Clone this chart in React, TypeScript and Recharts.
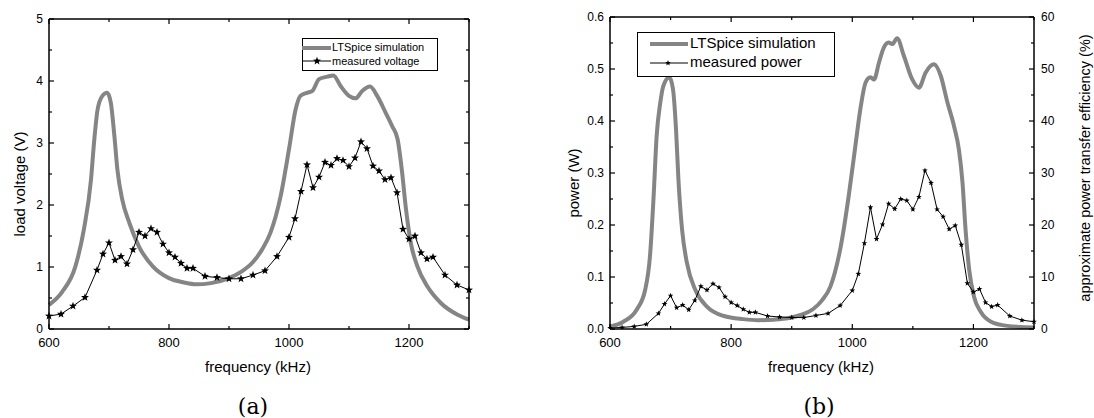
import React from "react";
import { LineChart, Line, XAxis, YAxis } from "recharts";

// x ticks shared by both panels (kHz)
const freqTicks = [600, 700, 800, 900, 1000, 1100, 1200, 1300];
const freqLabels = [600, 800, 1000, 1200];

const voltTicks = [0, 0.5, 1, 1.5, 2, 2.5, 3, 3.5, 4, 4.5, 5];
const powerTicks = [0, 0.05, 0.1, 0.15, 0.2, 0.25, 0.3, 0.35, 0.4, 0.45, 0.5, 0.55, 0.6];
const effTicks = [0, 5, 10, 15, 20, 25, 30, 35, 40, 45, 50, 55, 60];

// (a) LTSpice simulation, load voltage
const simFreqA = [600, 622, 644, 658, 670, 675, 681, 689, 697, 703, 709, 714, 722, 734, 750, 773, 800, 825, 845, 870, 900, 920, 940, 955, 969, 986, 1000, 1011, 1019, 1030, 1039, 1050, 1064, 1074, 1086, 1100, 1111, 1122, 1135, 1147, 1161, 1172, 1181, 1188, 1195, 1203, 1214, 1231, 1253, 1281, 1300];
const simVoltA = [0.39, 0.6, 1.01, 1.6, 2.41, 3.0, 3.54, 3.76, 3.81, 3.65, 3.11, 2.57, 2.09, 1.71, 1.33, 1.01, 0.82, 0.75, 0.72, 0.74, 0.82, 0.92, 1.08, 1.28, 1.55, 2.14, 2.9, 3.54, 3.76, 3.81, 3.84, 4.03, 4.07, 4.09, 3.92, 3.76, 3.72, 3.84, 3.91, 3.76, 3.49, 3.27, 3.06, 2.57, 1.93, 1.39, 1.01, 0.68, 0.42, 0.23, 0.15];

// measured frequencies (same sweep for both panels)
const measFreq = [600, 620, 640, 660, 680, 690, 700, 710, 720, 730, 740, 750, 760, 770, 780, 790, 800, 810, 820, 830, 840, 860, 880, 900, 920, 940, 960, 980, 1000, 1010, 1020, 1030, 1040, 1050, 1060, 1070, 1080, 1090, 1100, 1110, 1120, 1130, 1140, 1150, 1160, 1170, 1180, 1190, 1200, 1210, 1220, 1230, 1240, 1260, 1280, 1300];
const measVolt = [0.21, 0.24, 0.37, 0.51, 0.95, 1.21, 1.39, 1.11, 1.17, 1.05, 1.28, 1.56, 1.5, 1.62, 1.56, 1.37, 1.23, 1.16, 1.06, 0.98, 0.98, 0.85, 0.83, 0.81, 0.81, 0.87, 0.94, 1.17, 1.48, 1.78, 2.22, 2.65, 2.28, 2.45, 2.69, 2.64, 2.75, 2.72, 2.62, 2.76, 3.02, 2.91, 2.63, 2.55, 2.41, 2.44, 2.2, 1.61, 1.45, 1.5, 1.23, 1.13, 1.16, 0.87, 0.71, 0.63];
const measPower = [0.002, 0.003, 0.005, 0.009, 0.03, 0.048, 0.064, 0.041, 0.046, 0.037, 0.055, 0.082, 0.075, 0.087, 0.08, 0.062, 0.051, 0.045, 0.038, 0.032, 0.032, 0.025, 0.023, 0.022, 0.022, 0.026, 0.03, 0.045, 0.074, 0.106, 0.165, 0.234, 0.173, 0.201, 0.241, 0.231, 0.25, 0.247, 0.23, 0.254, 0.305, 0.281, 0.23, 0.216, 0.192, 0.199, 0.162, 0.088, 0.071, 0.077, 0.051, 0.043, 0.046, 0.025, 0.017, 0.014];

// (b) LTSpice simulation, power
const simFreqB = [600, 622, 644, 658, 666, 672, 677, 683, 688, 698, 704, 709, 713, 719, 727, 741, 760, 788, 820, 845, 870, 895, 915, 935, 950, 964, 981, 994, 1005, 1014, 1022, 1030, 1036, 1044, 1052, 1060, 1066, 1074, 1085, 1099, 1110, 1121, 1135, 1146, 1157, 1168, 1176, 1182, 1187, 1193, 1201, 1212, 1229, 1256, 1300];
const simPowerB = [0.005, 0.014, 0.037, 0.075, 0.14, 0.255, 0.371, 0.435, 0.467, 0.484, 0.461, 0.384, 0.287, 0.191, 0.127, 0.075, 0.043, 0.025, 0.019, 0.017, 0.018, 0.021, 0.027, 0.038, 0.055, 0.082, 0.159, 0.255, 0.351, 0.428, 0.474, 0.484, 0.48, 0.512, 0.541, 0.551, 0.548, 0.559, 0.526, 0.48, 0.464, 0.493, 0.509, 0.487, 0.436, 0.39, 0.345, 0.281, 0.191, 0.114, 0.062, 0.033, 0.014, 0.006, 0.003];

const zip = (fs: number[], vs: number[]) => fs.map((f, i) => ({ f, v: vs[i] }));

const simA = zip(simFreqA, simVoltA);
const measA = zip(measFreq, measVolt);
const simB = zip(simFreqB, simPowerB);
const measB = zip(measFreq, measPower);

const FONT = "'Liberation Sans', Arial, sans-serif";
const GREY = "#858585";

function starPoints(cx: number, cy: number, R: number) {
    const pts: string[] = [];
    for (let i = 0; i < 10; i++) {
        const a = (-90 + i * 36) * Math.PI / 180;
        const r = i % 2 === 0 ? R : R * 0.42;
        pts.push(`${cx + r * Math.cos(a)},${cy + r * Math.sin(a)}`);
    }
    return pts.join(" ");
}

// inward tick marks, longer on the labelled ones
function makeTick(side: string, isMajor: (v: number) => boolean, fmt: ((v: number) => string) | null, fontSize = 12) {
    return (props: any) => {
        const { x, y, payload } = props;
        const v = payload.value;
        const major = isMajor(v);
        const len = major ? 5 : 3;
        let line;
        let text = null;
        if (side === "bottom") {
            line = <line x1={x} y1={y} x2={x} y2={y - len} stroke="#000" strokeWidth={1.2} />;
            if (fmt && major) text = <text x={x} y={y + 18} textAnchor="middle" fontSize={fontSize} fontFamily={FONT} fill="#000">{fmt(v)}</text>;
        } else if (side === "top") {
            line = <line x1={x} y1={y} x2={x} y2={y + len} stroke="#000" strokeWidth={1.2} />;
        } else if (side === "left") {
            line = <line x1={x} y1={y} x2={x + len} y2={y} stroke="#000" strokeWidth={1.2} />;
            if (fmt && major) text = <text x={x - 6} y={y + 4} textAnchor="end" fontSize={fontSize} fontFamily={FONT} fill="#000">{fmt(v)}</text>;
        } else {
            line = <line x1={x} y1={y} x2={x - len} y2={y} stroke="#000" strokeWidth={1.2} />;
            if (fmt && major) text = <text x={x + 7} y={y + 4} textAnchor="start" fontSize={fontSize} fontFamily={FONT} fill="#000">{fmt(v)}</text>;
        }
        return <g>{line}{text}</g>;
    };
}

const freqMajor = (v: number) => freqLabels.includes(v);
const intMajor = (v: number) => Math.abs(v - Math.round(v)) < 1e-6;
const tenthMajor = (v: number) => Math.abs(v * 10 - Math.round(v * 10)) < 1e-6;
const tenMajor = (v: number) => v % 10 === 0;

const axisLine = { stroke: "#000", strokeWidth: 1.5 };

function Panel({ sim, meas, yDomain, yTicks, yMajor, yFmt, starR, rightAxis, margin, leftW }: any) {
    return (
        <LineChart width={margin.w} height={418} margin={{ top: margin.top - 1, right: margin.right - 1, bottom: 59, left: 0 }}>
            <XAxis dataKey="f" type="number" domain={[600, 1300]} ticks={freqTicks} interval={0}
                height={30} tickSize={0} tickMargin={0} axisLine={axisLine} tickLine={false}
                tick={makeTick("bottom", freqMajor, (v) => String(v), 13)} />
            <XAxis xAxisId="top" orientation="top" dataKey="f" type="number" domain={[600, 1300]} ticks={freqTicks}
                interval={0} height={1} mirror tickSize={0} tickMargin={0} axisLine={axisLine} tickLine={false}
                allowDataOverflow tick={makeTick("top", freqMajor, null)} />
            <YAxis type="number" domain={yDomain} ticks={yTicks} interval={0} width={leftW}
                tickSize={0} tickMargin={0} axisLine={axisLine} tickLine={false}
                allowDataOverflow tick={makeTick("left", yMajor, yFmt, 12)} />
            <YAxis yAxisId="r" orientation="right" type="number" domain={rightAxis.domain} ticks={rightAxis.ticks}
                interval={0} width={1} mirror tickSize={0} tickMargin={0} axisLine={axisLine} tickLine={false}
                allowDataOverflow tick={makeTick("right", rightAxis.major, rightAxis.fmt, 12)} />
            {/* invisible series that only binds the mirror axes (top / right) */}
            <Line data={meas} dataKey="v" xAxisId="top" yAxisId="r" stroke="none" dot={false}
                activeDot={false} legendType="none" isAnimationActive={false} />
            <Line data={sim} dataKey="v" type="monotone" stroke={GREY} strokeWidth={4} dot={false} isAnimationActive={false} />
            <Line data={meas} dataKey="v" type="linear" stroke="#000" strokeWidth={1} isAnimationActive={false}
                dot={(p: any) => <polygon key={p.index} points={starPoints(p.cx, p.cy, starR)} fill="#000" />} />
        </LineChart>
    );
}

const txt = (s: any): React.CSSProperties => ({ position: "absolute", fontFamily: FONT, whiteSpace: "nowrap", color: "#000", ...s });

export default function App() {
    return (
        <div style={{ position: "absolute", left: 0, top: 0, width: 1094, height: 418, background: "#fff" }}>
            <div style={{ position: "absolute", left: 0, top: 0 }}>
                <Panel sim={simA} meas={measA} yDomain={[0, 5]} yTicks={voltTicks} yMajor={intMajor}
                    yFmt={(v: number) => String(v)} starR={4.2} leftW={49}
                    margin={{ w: 540, top: 20, right: 72 }}
                    rightAxis={{ domain: [0, 5], ticks: voltTicks, major: intMajor, fmt: null }} />
            </div>
            <div style={{ position: "absolute", left: 560, top: 0 }}>
                <Panel sim={simB} meas={measB} yDomain={[0, 0.6]} yTicks={powerTicks} yMajor={tenthMajor}
                    yFmt={(v: number) => v.toFixed(1)} starR={3} leftW={50}
                    margin={{ w: 534, top: 18, right: 61 }}
                    rightAxis={{ domain: [0, 60], ticks: effTicks, major: tenMajor, fmt: (v: number) => String(v) }} />
            </div>

            {/* legend (a) */}
            <div style={{ position: "absolute", left: 302, top: 38, width: 134, height: 31, border: "1px solid #000", background: "#fff" }} />
            <svg style={{ position: "absolute", left: 302, top: 38 }} width={32} height={32}>
                <line x1={0} y1={10} x2={29} y2={10} stroke={GREY} strokeWidth={4} />
                <line x1={0} y1={23} x2={29} y2={23} stroke="#000" strokeWidth={1} />
                <polygon points={starPoints(15, 23, 4.2)} fill="#000" />
            </svg>
            <div style={txt({ left: 332, top: 40, fontSize: 11, lineHeight: "14px" })}>LTSpice simulation</div>
            <div style={txt({ left: 332, top: 54, fontSize: 11, lineHeight: "14px" })}>measured voltage</div>

            {/* legend (b) */}
            <div style={{ position: "absolute", left: 637, top: 32, width: 196, height: 43, border: "1px solid #000", background: "#fff" }} />
            <svg style={{ position: "absolute", left: 648, top: 32 }} width={42} height={44}>
                <line x1={2} y1={12} x2={40} y2={12} stroke={GREY} strokeWidth={4} />
                <line x1={2} y1={31} x2={40} y2={31} stroke="#000" strokeWidth={1} />
                <polygon points={starPoints(20, 31, 3)} fill="#000" />
            </svg>
            <div style={txt({ left: 690, top: 34, fontSize: 15, lineHeight: "18px" })}>LTSpice simulation</div>
            <div style={txt({ left: 690, top: 53, fontSize: 15, lineHeight: "18px" })}>measured power</div>

            {/* axis titles */}
            <div style={txt({ left: 258, top: 366, fontSize: 15, transform: "translate(-50%, -50%)" })}>frequency (kHz)</div>
            <div style={txt({ left: 821, top: 366, fontSize: 15, transform: "translate(-50%, -50%)" })}>frequency (kHz)</div>
            <div style={txt({ left: 19, top: 184, fontSize: 15, transform: "translate(-50%, -50%) rotate(-90deg)" })}>load voltage (V)</div>
            <div style={txt({ left: 573, top: 183, fontSize: 15, transform: "translate(-50%, -50%) rotate(-90deg)" })}>power (W)</div>
            <div style={txt({ left: 1085, top: 168, fontSize: 14.5, lineHeight: "16px", transform: "translate(-50%, -50%) rotate(-90deg)" })}>approximate power transfer efficiency (%)</div>

            <div style={txt({ left: 253, top: 406, fontSize: 22, fontFamily: "'DejaVu Serif', serif", transform: "translate(-50%, -50%)" })}>(a)</div>
            <div style={txt({ left: 819, top: 406, fontSize: 22, fontFamily: "'DejaVu Serif', serif", transform: "translate(-50%, -50%)" })}>(b)</div>
        </div>
    );
}
